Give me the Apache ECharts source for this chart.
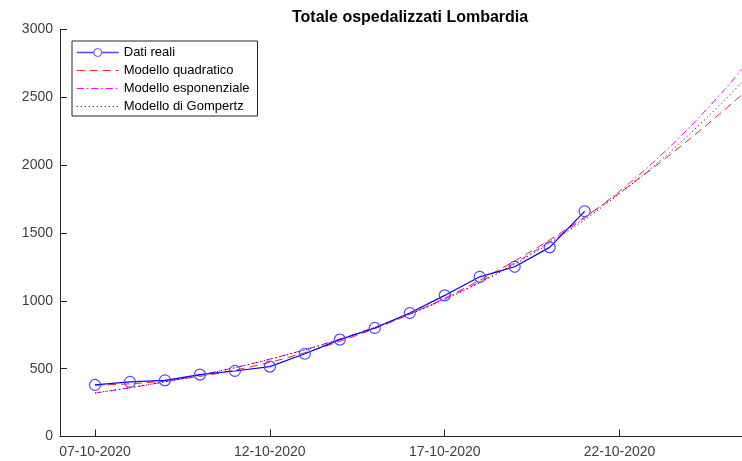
<!DOCTYPE html>
<html>
<head>
<meta charset="utf-8">
<script src="https://cdn.jsdelivr.net/npm/echarts@6/dist/echarts.min.js"></script>
<style>
html,body{margin:0;padding:0;background:#fff;}
#c{width:742px;height:461px;}
</style>
</head>
<body>
<div id="c"></div>
<script>
// ---- data ----
var titleText = 'Totale ospedalizzati Lombardia';
var tickDays = [0, 5, 10, 15];
var tickLabels = ['07-10-2020', '12-10-2020', '17-10-2020', '22-10-2020'];

var realDays = [0, 1, 2, 3, 4, 5, 6, 7, 8, 9, 10, 11, 12, 13, 14];
var realValues = [380, 402, 414, 456, 483, 515, 610, 714, 800, 910, 1040, 1177, 1251, 1394, 1660];

var modelDays = [0, 1, 2, 3, 4, 5, 6, 7, 8, 9, 10, 11, 12, 13, 14, 15, 16, 17, 18, 18.5];
var quadValues = [378, 388, 409, 443, 489, 547, 618, 701, 795, 901, 1020, 1151, 1294, 1449, 1617, 1796, 1988, 2192, 2408, 2520];
var expValues = [320, 359, 403, 452, 508, 570, 640, 718, 806, 905, 1015, 1139, 1279, 1435, 1611, 1808, 2030, 2278, 2557, 2708];
var gompValues = [321, 360, 403, 452, 507, 569, 638, 716, 803, 901, 1010, 1133, 1270, 1424, 1598, 1790, 1998, 2228, 2478, 2612];

var seriesNames = ['Dati reali', 'Modello quadratico', 'Modello esponenziale', 'Modello di Gompertz'];

function pairs(xs, ys) {
  return xs.map(function (x, i) { return [x, ys[i]]; });
}

var axisColor = '#262626';
var labelColor = '#404040';
var font = 'Liberation Sans, Arial, sans-serif';
var blue = '#0000ff', red = '#ff2020', magenta = '#ff00ff', black = '#000000';
var quadDash = [8, 5], expDash = [7, 3, 1.5, 3], gompDash = [1, 3];
var hidden = {color: 'rgba(0,0,0,0)', borderColor: 'rgba(0,0,0,0)', borderWidth: 0, opacity: 0};

var chart = echarts.init(document.getElementById('c'), null, {renderer: 'canvas'});
chart.setOption({
  animation: false,
  backgroundColor: '#ffffff',
  title: {
    text: titleText,
    left: 287,
    top: 5,
    textStyle: {fontFamily: font, fontSize: 16, fontWeight: 'bold', color: '#000'}
  },
  grid: {left: 60, right: 0, top: 29.5, bottom: 24.5, containLabel: false},
  legend: {
    data: [
      {name: seriesNames[0], itemStyle: {color: '#fff', borderColor: '#4a4aff', borderWidth: 1},
        lineStyle: {color: '#4a4aff', width: 1.5, type: 'solid'}},
      {name: seriesNames[1], itemStyle: hidden, lineStyle: {color: red, width: 1.2, type: quadDash}},
      {name: seriesNames[2], itemStyle: hidden, lineStyle: {color: magenta, width: 1.2, type: expDash}},
      {name: seriesNames[3], itemStyle: hidden, lineStyle: {color: black, width: 1, type: gompDash}}
    ],
    orient: 'vertical',
    left: 72,
    top: 41,
    itemWidth: 42,
    itemHeight: 10,
    itemGap: 5,
    padding: [5, 8, 3, 4],
    borderColor: '#262626',
    borderWidth: 1,
    borderRadius: 0,
    backgroundColor: '#fff',
    textStyle: {fontFamily: font, fontSize: 13, color: '#000'}
  },
  xAxis: {
    type: 'value',
    min: -1,
    max: 18.5,
    splitLine: {show: false},
    axisLine: {show: true, onZero: false, lineStyle: {color: axisColor, width: 1}},
    axisTick: {show: true, inside: true, length: 7, customValues: tickDays, lineStyle: {color: axisColor}},
    axisLabel: {
      customValues: tickDays,
      margin: 9,
      fontFamily: font,
      fontSize: 14,
      color: labelColor,
      formatter: function (v) {
        var i = tickDays.indexOf(v);
        return i >= 0 ? tickLabels[i] : '';
      }
    }
  },
  yAxis: {
    type: 'value',
    min: 0,
    max: 3000,
    interval: 500,
    splitLine: {show: false},
    axisLine: {show: true, onZero: false, lineStyle: {color: axisColor, width: 1}},
    axisTick: {show: true, inside: true, length: 7, lineStyle: {color: axisColor}},
    axisLabel: {
      margin: 7,
      fontFamily: font,
      fontSize: 14,
      color: labelColor,
      formatter: function (v) { return String(v); }
    }
  },
  series: [
    {
      name: seriesNames[0],
      type: 'line',
      data: pairs(realDays, realValues),
      symbol: 'circle',
      symbolSize: 11,
      showSymbol: true,
      z: 5,
      lineStyle: {color: blue, width: 1.2},
      itemStyle: {color: 'rgba(0,0,0,0)', borderColor: '#4a4aff', borderWidth: 1.2}
    },
    {
      name: seriesNames[1],
      type: 'line',
      data: pairs(modelDays, quadValues),
      symbol: 'none',
      smooth: 0.3,
      z: 2,
      lineStyle: {color: red, width: 1, type: quadDash},
      itemStyle: {color: red}
    },
    {
      name: seriesNames[2],
      type: 'line',
      data: pairs(modelDays, expValues),
      symbol: 'none',
      smooth: 0.3,
      z: 3,
      lineStyle: {color: magenta, width: 1, type: expDash},
      itemStyle: {color: magenta}
    },
    {
      name: seriesNames[3],
      type: 'line',
      data: pairs(modelDays, gompValues),
      symbol: 'none',
      smooth: 0.3,
      z: 4,
      lineStyle: {color: black, width: 1, type: gompDash},
      itemStyle: {color: black}
    }
  ]
});
</script>
</body>
</html>
